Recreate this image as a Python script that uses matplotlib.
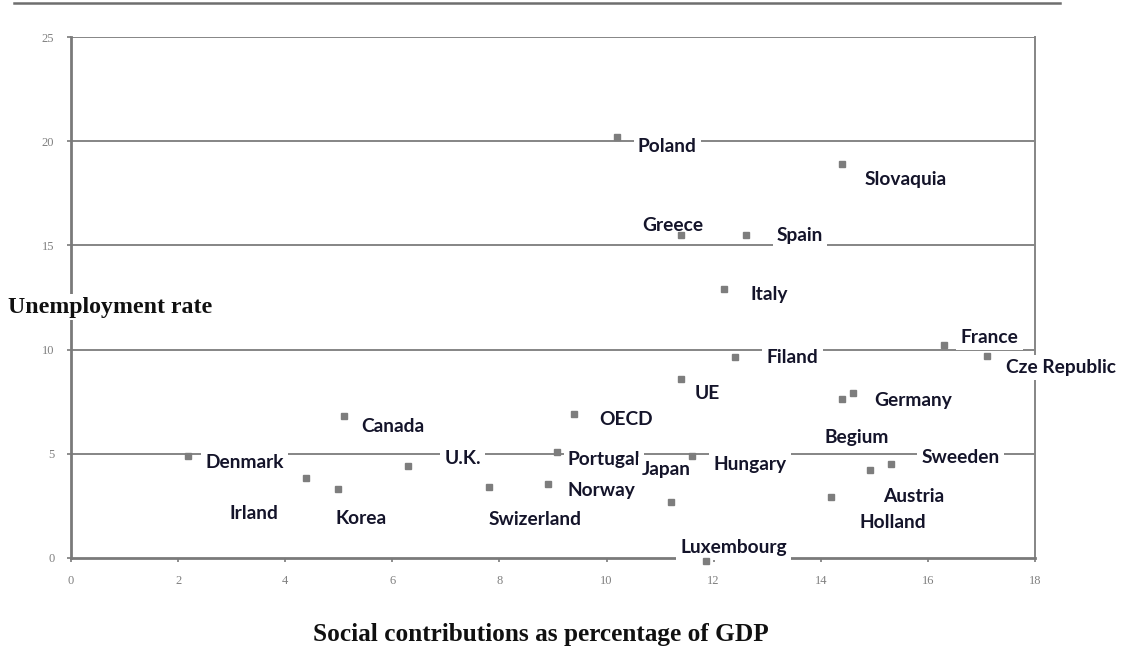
import matplotlib
matplotlib.use('Agg')
import matplotlib.pyplot as plt
from matplotlib.lines import Line2D

# dados (contribuicoes sociais % PIB x taxa de desemprego)
paises = ['Poland', 'Slovaquia', 'Greece', 'Spain', 'Italy', 'France', 'Filand',
          'Cze Republic', 'UE', 'Germany', 'Begium', 'OECD', 'Canada', 'U.K.',
          'Portugal', 'Sweeden', 'Denmark', 'Hungary', 'Japan', 'Norway',
          'Austria', 'Irland', 'Korea', 'Swizerland', 'Holland', 'Luxembourg']
contrib = [10.19, 14.40, 11.39, 12.60, 12.19, 16.31, 12.39,
           17.10, 11.39, 14.40, 14.60, 9.40, 5.09, 6.30,
           9.07, 15.32, 2.19, 11.60, 11.20, 8.90,
           14.92, 4.39, 4.99, 7.80, 14.20, 11.85]
desemprego = [20.2, 18.9, 15.5, 15.5, 12.9, 10.2, 9.63,
              9.71, 8.61, 7.61, 7.90, 6.89, 6.81, 4.41,
              5.10, 4.50, 4.89, 4.91, 2.70, 3.53,
              4.22, 3.82, 3.31, 3.42, 2.93, -0.12]

# deslocamento dos rotulos em pixels (dx, dy)
offsets = {
    'Poland': (21, -9), 'Slovaquia': (22, -15), 'Greece': (-39, 9),
    'Spain': (31, -1), 'Italy': (27, -5), 'France': (16, 8), 'Filand': (32, 0),
    'Cze Republic': (19, -12), 'UE': (14, -15), 'Germany': (32, -1),
    'Begium': (-28, -44), 'OECD': (25, -5), 'Canada': (18, -10),
    'U.K.': (36, 8), 'Portugal': (11, -8), 'Sweeden': (30, 7),
    'Denmark': (17, -6), 'Hungary': (21, -9), 'Japan': (-29, 32),
    'Norway': (20, -6), 'Austria': (13, -26), 'Irland': (-77, -35),
    'Korea': (-3, -29), 'Swizerland': (0, -33), 'Holland': (28, -26),
    'Luxembourg': (-25, 13),
}

xticks = [0, 2, 4, 6, 8, 10, 12, 14, 16, 18]
yticks = [0, 5, 10, 15, 20, 25]

CINZA = '#858585'
TEXTO = '#14142a'

fig = plt.figure(figsize=(11.21, 6.52), dpi=100)
ax = fig.add_axes([71/1121, 1 - 558/652, (1035 - 71)/1121, (558 - 37)/652])

ax.plot(contrib, desemprego, 's', color='#7d7d7d', markersize=5,
        linestyle='none', zorder=6, clip_on=False)

for nome, xv, yv in zip(paises, contrib, desemprego):
    dx, dy = offsets[nome]
    ax.annotate(nome, (xv, yv), xytext=(dx, dy), textcoords='offset pixels',
                ha='left', va='center', fontsize=13.8, family='Lato',
                fontweight='bold', color=TEXTO, zorder=5,
                annotation_clip=False,
                bbox=dict(boxstyle='square,pad=0.22', fc='white', ec='none'))

ax.set_xlim(0, 18)
ax.set_ylim(0, 25)
ax.set_xticks(xticks)
ax.set_yticks(yticks)
for yv in yticks[1:]:
    ax.axhline(yv, color=CINZA, linewidth=1.4, zorder=1)

for lado in ['left', 'bottom']:
    ax.spines[lado].set_color('#7a7a7a')
    ax.spines[lado].set_linewidth(2)
ax.spines['right'].set_color(CINZA)
ax.spines['right'].set_linewidth(1.4)
ax.spines['top'].set_visible(False)
for s in ax.spines.values():
    s.set_zorder(2)

ax.tick_params(axis='both', direction='out', length=3, width=1.2,
               color='#7a7a7a', labelcolor='#808080', labelsize=9, pad=9)
for lab in ax.get_xticklabels() + ax.get_yticklabels():
    lab.set_family('Liberation Serif')

fig.text(8/1121, 1 - 307/652, 'Unemployment rate', ha='left', va='center',
         family='Liberation Serif', fontweight='bold', fontsize=17.2,
         color='#101010', zorder=10,
         bbox=dict(boxstyle='square,pad=0.1', fc='white', ec='none'))
fig.text(541/1121, 1 - 635/652, 'Social contributions as percentage of GDP',
         ha='center', va='center', family='Liberation Serif',
         fontweight='bold', fontsize=18.2, color='#101010')

# linha de cabecalho da pagina
fig.add_artist(Line2D([14/1121, 1060/1121], [1 - 3/652, 1 - 3/652],
                      color='#6e6e6e', linewidth=1.8))

fig.savefig('out.png', dpi=100)
